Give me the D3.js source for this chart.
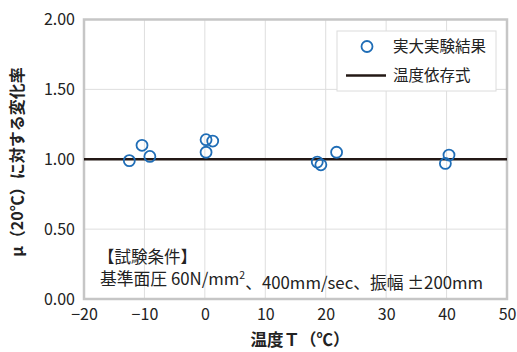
<!DOCTYPE html>
<html>
<head>
<meta charset="utf-8">
<script src="https://cdn.jsdelivr.net/npm/d3@7"></script>
<style>
body { margin: 0; background: #fff; }
text { font-family: "Noto Sans CJK JP", sans-serif; fill: #222; }
</style>
</head>
<body>
<script>
const tempT = [-12.5, -10.4, -9.1, 0.2, 1.3, 0.2, 18.6, 19.2, 21.8, 40.4, 39.8]
const ratio = [0.99, 1.10, 1.02, 1.14, 1.13, 1.05, 0.98, 0.96, 1.05, 1.03, 0.97]
const fitT = [-20, 50]
const fitV = [1.0, 1.0]
const xTicks = [-20, -10, 0, 10, 20, 30, 40, 50]
const yTicks = [0, 0.5, 1.0, 1.5, 2.0]

const W = 517, H = 352
const m = { left: 84, right: 10, top: 19.5, bottom: 53 }

const svg = d3.select('body').append('svg')
    .attr('width', W)
    .attr('height', H)

const x = d3.scaleLinear().domain([-20, 50]).range([m.left, W - m.right])
const y = d3.scaleLinear().domain([0, 2]).range([H - m.bottom, m.top])

// grid
svg.append('g').selectAll('line')
    .data(xTicks.slice(1, -1))
    .enter().append('line')
    .attr('x1', d => x(d)).attr('x2', d => x(d))
    .attr('y1', y(0)).attr('y2', y(2))
    .attr('stroke', '#dedede').attr('stroke-width', 1)

svg.append('g').selectAll('line')
    .data(yTicks.slice(1, -1))
    .enter().append('line')
    .attr('x1', x(-20)).attr('x2', x(50))
    .attr('y1', d => y(d)).attr('y2', d => y(d))
    .attr('stroke', '#dedede').attr('stroke-width', 1)

// frame
svg.append('rect')
    .attr('x', x(-20)).attr('y', y(2))
    .attr('width', x(50) - x(-20)).attr('height', y(0) - y(2))
    .attr('fill', 'none').attr('stroke', '#c6c6c6').attr('stroke-width', 2.5)

// axes labels
const xAxis = d3.axisBottom(x).tickValues(xTicks).tickSize(0).tickPadding(10)
    .tickFormat(d => d < 0 ? '\u2212' + Math.abs(d) : d)
const gx = svg.append('g').attr('transform', `translate(0,${y(0)})`).call(xAxis)
gx.select('.domain').remove()
gx.selectAll('text').attr('font-size', 16).style('fill', '#222')
    .attr('font-family', '"Liberation Sans", sans-serif')

const yAxis = d3.axisLeft(y).tickValues(yTicks).tickSize(0).tickPadding(9)
    .tickFormat(d3.format('.2f'))
const gy = svg.append('g').attr('transform', `translate(${x(-20)},0)`).call(yAxis)
gy.select('.domain').remove()
gy.selectAll('text').attr('font-size', 16).style('fill', '#222')
    .attr('font-family', '"Liberation Sans", sans-serif')

// fit line
const line = d3.line().x(d => x(d[0])).y(d => y(d[1]))
svg.append('path')
    .datum(fitT.map((t, i) => [t, fitV[i]]))
    .attr('d', line)
    .attr('fill', 'none').attr('stroke', '#231815').attr('stroke-width', 2.5)

// points
svg.append('g').selectAll('circle')
    .data(tempT.map((t, i) => [t, ratio[i]]))
    .enter().append('circle')
    .attr('cx', d => x(d[0])).attr('cy', d => y(d[1]))
    .attr('r', 5.5)
    .attr('fill', 'none').attr('stroke', '#1f6db6').attr('stroke-width', 1.8)

// legend
const lg = svg.append('g')
lg.append('rect')
    .attr('x', 337).attr('y', 31).attr('width', 159).attr('height', 60)
    .attr('fill', '#fff').attr('stroke', '#dcdcdc').attr('stroke-width', 1)
lg.append('circle')
    .attr('cx', 367).attr('cy', 46.5).attr('r', 5.5)
    .attr('fill', 'none').attr('stroke', '#1f6db6').attr('stroke-width', 1.8)
lg.append('text').attr('x', 393).attr('y', 47).attr('dy', '0.35em')
    .attr('font-size', 15.5).text('実大実験結果')
lg.append('line')
    .attr('x1', 346).attr('x2', 386).attr('y1', 75.5).attr('y2', 75.5)
    .attr('stroke', '#231815').attr('stroke-width', 2.5)
lg.append('text').attr('x', 393).attr('y', 76).attr('dy', '0.35em')
    .attr('font-size', 15.5).text('温度依存式')

// test conditions
svg.append('text').attr('x', 98).attr('y', 257).attr('dy', '0.35em')
    .attr('font-size', 16.5).text('【試験条件】')
const cond = svg.append('text').attr('x', 100).attr('y', 279).attr('dy', '0.35em')
    .attr('font-size', 16.8)
cond.append('tspan').text('基準面圧 60N/mm')
cond.append('tspan').attr('font-size', 10.5).attr('dy', '-0.6em').text('2')
cond.append('tspan').attr('dy', '0.6em').text('、400mm/sec、振幅 ±200mm')

// axis titles
svg.append('text')
    .attr('x', 300).attr('y', 340).attr('dy', '0.35em')
    .attr('text-anchor', 'middle')
    .attr('font-size', 16.5).attr('font-weight', 'bold')
    .text('温度Ｔ（℃）')

svg.append('text')
    .attr('transform', 'translate(17,162) rotate(-90)')
    .attr('dy', '0.35em')
    .attr('text-anchor', 'middle')
    .attr('font-size', 16).attr('font-weight', 'bold')
    .text('μ（20℃）に対する変化率')
</script>
</body>
</html>
